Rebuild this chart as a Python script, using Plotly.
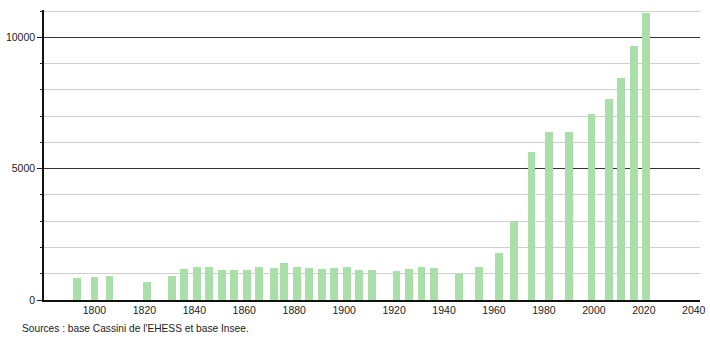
import plotly.graph_objects as go

years = [1793, 1800, 1806, 1821, 1831, 1836, 1841, 1846, 1851, 1856, 1861, 1866,
         1872, 1876, 1881, 1886, 1891, 1896, 1901, 1906, 1911, 1921, 1926, 1931,
         1936, 1946, 1954, 1962, 1968, 1975, 1982, 1990, 1999, 2006, 2011, 2016, 2021]
population = [850, 887, 925, 697, 925, 1191, 1268, 1243, 1153, 1142, 1142, 1244,
              1205, 1396, 1256, 1231, 1180, 1218, 1244, 1142, 1142, 1104, 1180, 1256,
              1218, 990, 1268, 1801, 3007, 5646, 6407, 6407, 7080, 7651, 8462, 9669, 10913]
x_ticks = [1800, 1820, 1840, 1860, 1880, 1900, 1920, 1940, 1960, 1980, 2000, 2020, 2040]
y_ticks = [0, 5000, 10000]
y_tick_labels = ["0", "5000", "10000"]
source_text = "Sources : base Cassini de l'EHESS et base Insee."

font = dict(family="Liberation Sans, Arial, sans-serif", size=10.5, color="#222")
src_font = dict(family="Liberation Sans, Arial, sans-serif", size=10.2, color="#222")

fig = go.Figure()
fig.add_trace(go.Bar(
    x=years, y=population, width=3.1,
    marker=dict(color="#aadfaa", line=dict(width=0)),
    hoverinfo="x+y",
))

fig.update_layout(
    width=710, height=340,
    margin=dict(l=44, r=10, t=10, b=40, autoexpand=False),
    plot_bgcolor="white", paper_bgcolor="white",
    font=font, showlegend=False, bargap=0,
    xaxis=dict(
        range=[1779.8, 2042.5], tickvals=x_ticks, ticks="", automargin=False,
        showline=True, linecolor="#111", linewidth=1.5,
        showgrid=False, zeroline=False, tickfont=font,
    ),
    yaxis=dict(
        range=[0, 11040], tickvals=y_ticks, ticktext=y_tick_labels, automargin=False,
        ticks="outside", ticklen=5, tickcolor="#222", tickwidth=1,
        showline=True, linecolor="#111", linewidth=1.5,
        showgrid=True, gridcolor="#333", gridwidth=1, zeroline=False,
        tickfont=font,
        minor=dict(dtick=1000, tick0=0, ticks="outside", ticklen=2,
                   tickcolor="#222", showgrid=True, gridcolor="#cfcfcf", gridwidth=1),
    ),
    annotations=[dict(
        text=source_text, xref="paper", yref="paper",
        x=(20 - 44) / 656, y=(300 - 328) / 290,
        xanchor="left", yanchor="middle", showarrow=False, font=src_font,
    )],
)

fig.write_html("out.html")
